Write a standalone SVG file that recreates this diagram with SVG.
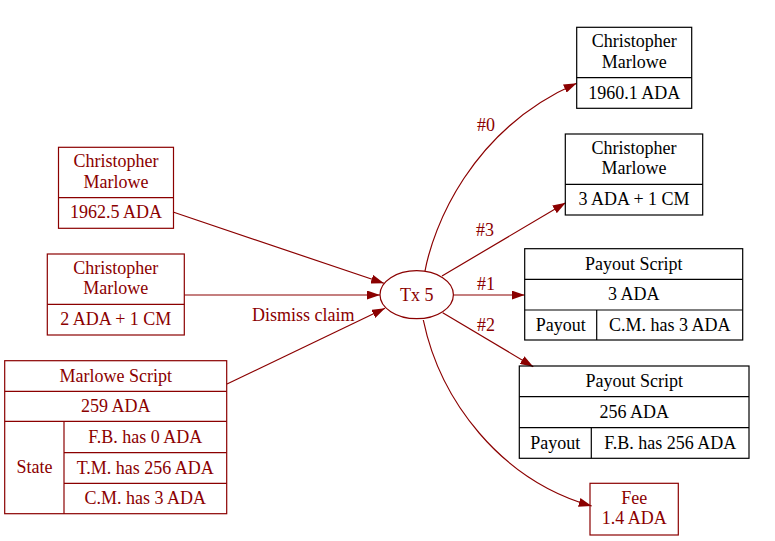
<svg xmlns="http://www.w3.org/2000/svg" width="775" height="541" viewBox="0 0 775 541" font-family="'Liberation Serif', 'Times New Roman', serif">
<style>
text{font-family:'Liberation Serif','Times New Roman',serif;font-size:18px;text-anchor:middle}
.r text{fill:#8b0000}
.r rect,.r line,.r ellipse{stroke:#8b0000;fill:none;stroke-width:1.2}
.k text{fill:#000}
.k rect,.k line{stroke:#000;fill:none;stroke-width:1.2}
.e path{stroke:#8b0000;fill:none;stroke-width:1.2}
.e text{fill:#8b0000}
</style>
<defs>
<marker id="a" viewBox="0 0 13 9" refX="13" refY="4.5" markerWidth="13" markerHeight="9" orient="auto" markerUnits="userSpaceOnUse">
<path d="M0,0 L13,4.5 L0,9 z" fill="#8b0000"/>
</marker>
</defs>
<rect width="775" height="541" fill="#fff"/>
<g id="edges" class="e">
<path d="M173,212 L384,283.3" marker-end="url(#a)"/>
<path d="M184.3,295 L380,295" marker-end="url(#a)"/>
<path d="M227,384 L385,308.3" marker-end="url(#a)"/>
<text x="303.3" y="321">Dismiss claim</text>
<path d="M425,271 C433,228 470,130 576.7,83.3" marker-end="url(#a)"/>
<text x="486" y="131">#0</text>
<path d="M442,276 L565.7,202.7" marker-end="url(#a)"/>
<text x="485" y="236">#3</text>
<path d="M453.3,295 L524.7,295" marker-end="url(#a)"/>
<text x="486" y="290">#1</text>
<path d="M442.7,312.7 L533.3,366.7" marker-end="url(#a)"/>
<text x="486" y="331">#2</text>
<path d="M423.3,320 C440,400 500,480 591.7,506" marker-end="url(#a)"/>
</g>
<g id="in1" class="r">
<rect x="58.5" y="147.3" width="115" height="81"/>
<line x1="58.5" y1="197.7" x2="173.5" y2="197.7"/>
<text x="116" y="167.3">Christopher</text>
<text x="116" y="187.7">Marlowe</text>
<text x="116" y="218.3">1962.5 ADA</text>
</g>
<g id="in2" class="r">
<rect x="47.3" y="254" width="137" height="81"/>
<line x1="47.3" y1="304.3" x2="184.3" y2="304.3"/>
<text x="115.8" y="274">Christopher</text>
<text x="115.8" y="294.4">Marlowe</text>
<text x="115.8" y="325.2">2 ADA + 1 CM</text>
</g>
<g id="in3" class="r">
<rect x="4.7" y="360.7" width="222" height="153"/>
<line x1="4.7" y1="391.3" x2="226.7" y2="391.3"/>
<line x1="4.7" y1="421.3" x2="226.7" y2="421.3"/>
<line x1="64" y1="452.7" x2="226.7" y2="452.7"/>
<line x1="64" y1="483.3" x2="226.7" y2="483.3"/>
<line x1="64" y1="421.3" x2="64" y2="513.7"/>
<text x="115.7" y="381.5">Marlowe Script</text>
<text x="115.7" y="411.8">259 ADA</text>
<text x="34.4" y="473">State</text>
<text x="145.3" y="442.5">F.B. has 0 ADA</text>
<text x="145.3" y="473.5">T.M. has 256 ADA</text>
<text x="145.3" y="504">C.M. has 3 ADA</text>
</g>
<g id="tx5" class="r">
<ellipse cx="416.7" cy="294.7" rx="36.7" ry="24"/>
<text x="416.7" y="300.5">Tx 5</text>
</g>
<g id="out0" class="k">
<rect x="576.7" y="27.3" width="115" height="81"/>
<line x1="576.7" y1="77.7" x2="691.7" y2="77.7"/>
<text x="634.2" y="47.3">Christopher</text>
<text x="634.2" y="67.7">Marlowe</text>
<text x="634.2" y="98.5">1960.1 ADA</text>
</g>
<g id="out3" class="k">
<rect x="565.3" y="134" width="137.4" height="81"/>
<line x1="565.3" y1="184.3" x2="702.7" y2="184.3"/>
<text x="634" y="154">Christopher</text>
<text x="634" y="174.4">Marlowe</text>
<text x="634" y="205.2">3 ADA + 1 CM</text>
</g>
<g id="out1" class="k">
<rect x="524.7" y="248.7" width="218" height="91.3"/>
<line x1="524.7" y1="279.3" x2="742.7" y2="279.3"/>
<line x1="524.7" y1="310" x2="742.7" y2="310"/>
<line x1="596.7" y1="310" x2="596.7" y2="340"/>
<text x="633.7" y="269.5">Payout Script</text>
<text x="633.7" y="300.2">3 ADA</text>
<text x="560.7" y="330.5">Payout</text>
<text x="669.7" y="330.5">C.M. has 3 ADA</text>
</g>
<g id="out2" class="k">
<rect x="519.3" y="366" width="229.7" height="92.3"/>
<line x1="519.3" y1="396.7" x2="749" y2="396.7"/>
<line x1="519.3" y1="427.7" x2="749" y2="427.7"/>
<line x1="591.3" y1="427.7" x2="591.3" y2="458.3"/>
<text x="634.2" y="386.8">Payout Script</text>
<text x="634.2" y="417.7">256 ADA</text>
<text x="555.3" y="448.5">Payout</text>
<text x="670.2" y="448.5">F.B. has 256 ADA</text>
</g>
<g id="fee" class="r">
<rect x="590" y="483.3" width="88.3" height="51.7"/>
<text x="634.2" y="504">Fee</text>
<text x="634.2" y="523.5">1.4 ADA</text>
</g>
</svg>
